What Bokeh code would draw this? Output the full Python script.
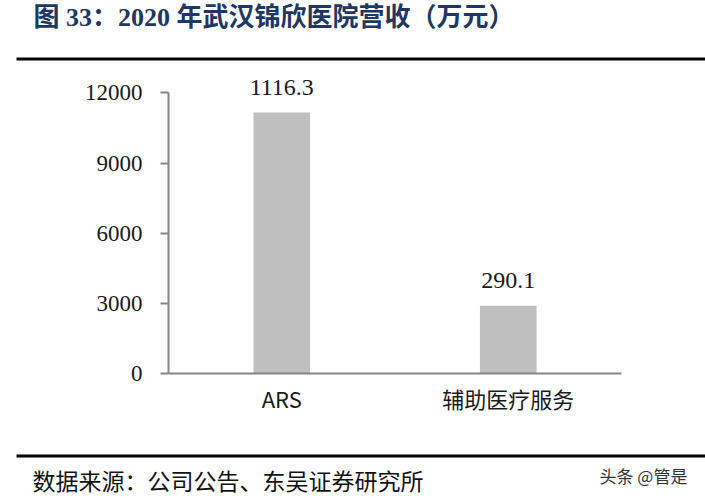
from bokeh.plotting import figure
from bokeh.layouts import column
from bokeh.models import Label, BoxAnnotation, FactorRange, Range1d, FixedTicker
from bokeh.core.properties import value
from bokeh.embed import file_html
from bokeh.resources import INLINE

title_text = "图 33：2020 年武汉锦欣医院营收（万元）"
source_text = "数据来源：公司公告、东吴证券研究所"
watermark_text = "头条 @管是"
categories = ["ARS", "辅助医疗服务"]
values = [11163, 2901]
value_labels = ["1116.3", "290.1"]
y_ticks = [0, 3000, 6000, 9000, 12000]

SERIF = "'Liberation Serif', 'Noto Sans CJK SC', serif"
CJK = "'Noto Sans CJK SC', sans-serif"
AXIS = "#868686"
W = 705


def blank(height):
    f = figure(width=W, height=height, x_range=Range1d(0, W), y_range=Range1d(height, 0),
               output_backend="svg", toolbar_location=None, frame_align=False,
               min_border=0, min_border_left=0, min_border_right=0,
               min_border_top=0, min_border_bottom=0)
    f.axis.visible = False
    f.grid.visible = False
    f.outline_line_color = None
    f.background_fill_color = "white"
    f.border_fill_color = "white"
    return f


# header
head = blank(64)
head.add_layout(Label(x=33, y=17, text=title_text, text_font=SERIF, text_font_size="26px",
                      text_font_style="bold", text_color="#1f3763", text_baseline="middle"))
head.add_layout(BoxAnnotation(left=16, right=W, top=57, bottom=60,
                              fill_color="black", fill_alpha=1, line_alpha=0))

# main chart
p = figure(width=W, height=380,
           x_range=FactorRange(factors=categories, range_padding=0),
           y_range=Range1d(0, 13000),
           output_backend="svg", toolbar_location=None, frame_align=False,
           min_border_left=168, min_border_right=84,
           min_border_top=5, min_border_bottom=71)
p.outline_line_color = None
p.grid.visible = False
p.background_fill_color = "white"
p.border_fill_color = "white"

p.vbar(x=categories, top=values, width=0.25, fill_color="#bfbfbf", line_color=None)
p.text(x=categories, y=values, text=value_labels, text_align="center",
       text_baseline="alphabetic", y_offset=-25,
       text_font=value(SERIF), text_font_size="24px", text_color="#1a1a1a")

ya = p.yaxis[0]
ya.ticker = FixedTicker(ticks=y_ticks)
ya.bounds = (0, 12000)
ya.axis_line_color = AXIS
ya.axis_line_width = 2
ya.major_tick_line_color = AXIS
ya.major_tick_line_width = 2
ya.major_tick_out = 8
ya.major_tick_in = 0
ya.minor_tick_line_color = None
ya.major_label_text_font = SERIF
ya.major_label_text_font_size = "23px"
ya.major_label_text_color = "#1a1a1a"
ya.major_label_standoff = 18

xa = p.xaxis[0]
xa.axis_line_color = AXIS
xa.axis_line_width = 2
xa.major_tick_line_color = None
xa.minor_tick_line_color = None
xa.major_label_text_font = CJK
xa.major_label_text_font_size = "22px"
xa.major_label_text_color = "#1a1a1a"
xa.major_label_standoff = 2

# footer
foot = blank(54)
foot.add_layout(BoxAnnotation(left=16, right=W, top=10, bottom=13,
                              fill_color="black", fill_alpha=1, line_alpha=0))
foot.add_layout(Label(x=32, y=35, text=source_text, text_font=CJK, text_font_size="23px",
                      text_color="#111111", text_baseline="middle"))
foot.add_layout(Label(x=599, y=31, text=watermark_text, text_font=CJK, text_font_size="17px",
                      text_color="#333333", text_baseline="middle"))

layout = column(head, p, foot, spacing=0)
open("out.html", "w").write(file_html(layout, INLINE))
